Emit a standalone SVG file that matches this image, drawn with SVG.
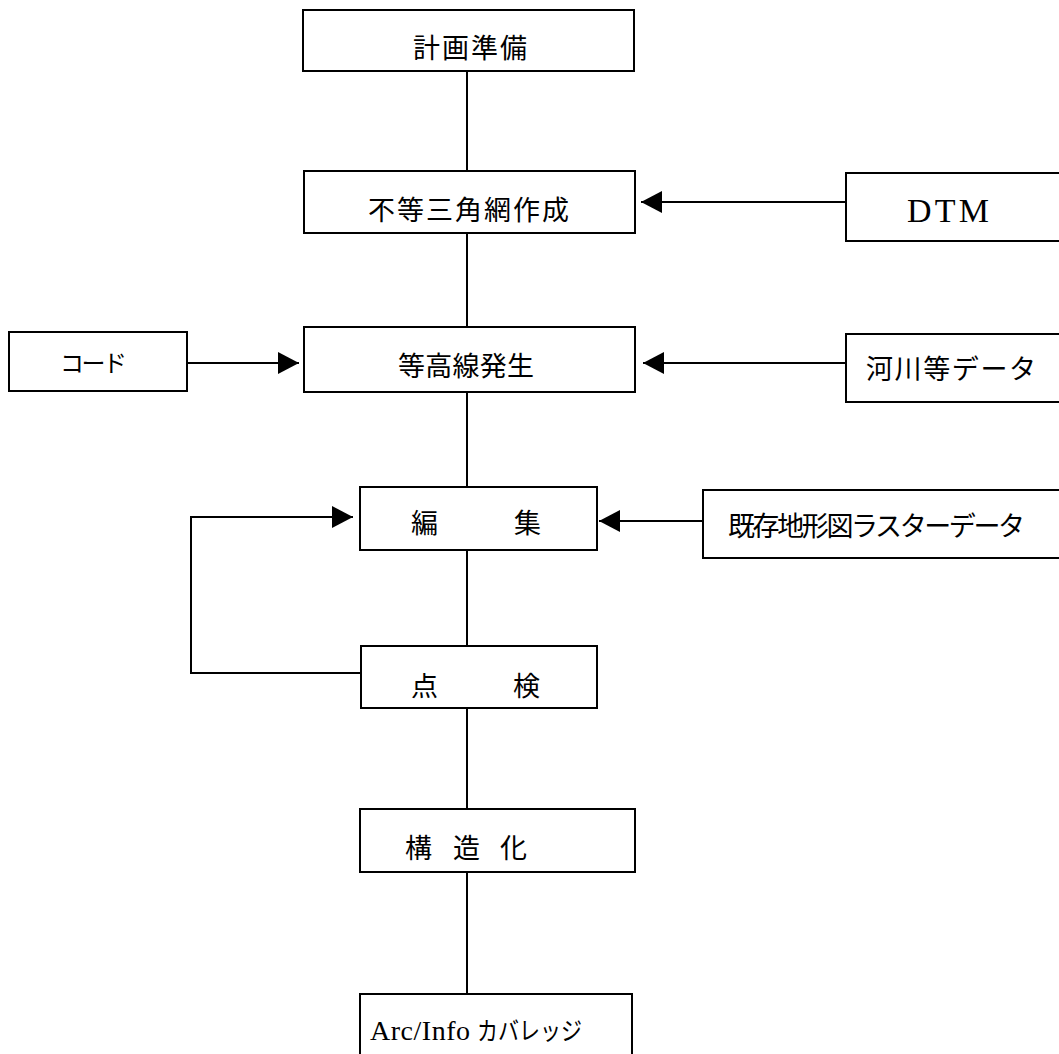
<svg xmlns="http://www.w3.org/2000/svg" width="1059" height="1054" viewBox="0 0 1059 1054">
<defs>
<marker id="ah" markerWidth="22" markerHeight="22" refX="21" refY="11" orient="auto" markerUnits="userSpaceOnUse">
<path d="M0,0 L21,11 L0,22 Z" fill="#000"/>
</marker>
<style>
.box{fill:#fff;stroke:#000;stroke-width:2}
.ln{fill:none;stroke:#000;stroke-width:2}
.jp{font-family:"Noto Sans CJK JP","Liberation Serif",sans-serif;font-size:27px;fill:#000}
.en{font-family:"Liberation Serif","Noto Sans CJK JP",serif;font-size:30px;fill:#000}
</style>
</defs>
<rect width="1059" height="1054" fill="#fff"/>
<g id="connectors">
<line class="ln" x1="467" y1="71" x2="467" y2="171"/>
<line class="ln" x1="467" y1="233" x2="467" y2="327"/>
<line class="ln" x1="467" y1="392" x2="467" y2="487"/>
<line class="ln" x1="467" y1="550" x2="467" y2="646"/>
<line class="ln" x1="467" y1="708" x2="467" y2="809"/>
<line class="ln" x1="467" y1="872" x2="467" y2="994"/>
<line class="ln" x1="846" y1="202" x2="641" y2="202" marker-end="url(#ah)"/>
<line class="ln" x1="187" y1="363" x2="299" y2="363" marker-end="url(#ah)"/>
<line class="ln" x1="846" y1="363" x2="643" y2="363" marker-end="url(#ah)"/>
<line class="ln" x1="703" y1="521" x2="599" y2="521" marker-end="url(#ah)"/>
<polyline class="ln" points="361,673 191,673 191,517 353,517" marker-end="url(#ah)"/>
</g>
<g id="n1"><rect class="box" x="303" y="10" width="331" height="61"/><text class="jp" x="413" y="58" textLength="114" lengthAdjust="spacing">計画準備</text></g>
<g id="n2"><rect class="box" x="304" y="171" width="331" height="62"/><text class="jp" x="368" y="220" textLength="201" lengthAdjust="spacing">不等三角網作成</text></g>
<g id="n_dtm"><rect class="box" x="846" y="173" width="230" height="68"/><text class="en" x="907" y="222" style="font-size:34px" textLength="82" lengthAdjust="spacing">DTM</text></g>
<g id="n_code"><rect class="box" x="9" y="332" width="178" height="59"/><text class="jp" x="60" y="372" style="font-size:24px" textLength="67" lengthAdjust="spacing">コード</text></g>
<g id="n3"><rect class="box" x="304" y="327" width="331" height="65"/><text class="jp" x="398" y="376" textLength="136" lengthAdjust="spacing">等高線発生</text></g>
<g id="n_river"><rect class="box" x="846" y="334" width="230" height="68"/><text class="jp" x="866" y="379" textLength="170" lengthAdjust="spacing">河川等データ</text></g>
<g id="n4"><rect class="box" x="360" y="487" width="237" height="63"/><text class="jp" x="411" y="533">編</text><text class="jp" x="514" y="533">集</text></g>
<g id="n_raster"><rect class="box" x="703" y="490" width="373" height="68"/><text class="jp" x="728" y="536" textLength="297" lengthAdjust="spacing">既存地形図ラスターデータ</text></g>
<g id="n5"><rect class="box" x="361" y="646" width="236" height="62"/><text class="jp" x="411" y="696">点</text><text class="jp" x="513" y="696">検</text></g>
<g id="n6"><rect class="box" x="360" y="809" width="275" height="63"/><text class="jp" x="405" y="858">構</text><text class="jp" x="453" y="858">造</text><text class="jp" x="500" y="858">化</text></g>
<g id="n7"><rect class="box" x="360" y="994" width="272" height="80"/><text class="en" x="370" y="1040" style="font-size:28px" textLength="100" lengthAdjust="spacing">Arc/Info</text><text class="jp" x="477" y="1040" style="font-size:25px" textLength="105" lengthAdjust="spacingAndGlyphs">カバレッジ</text></g>
</svg>
